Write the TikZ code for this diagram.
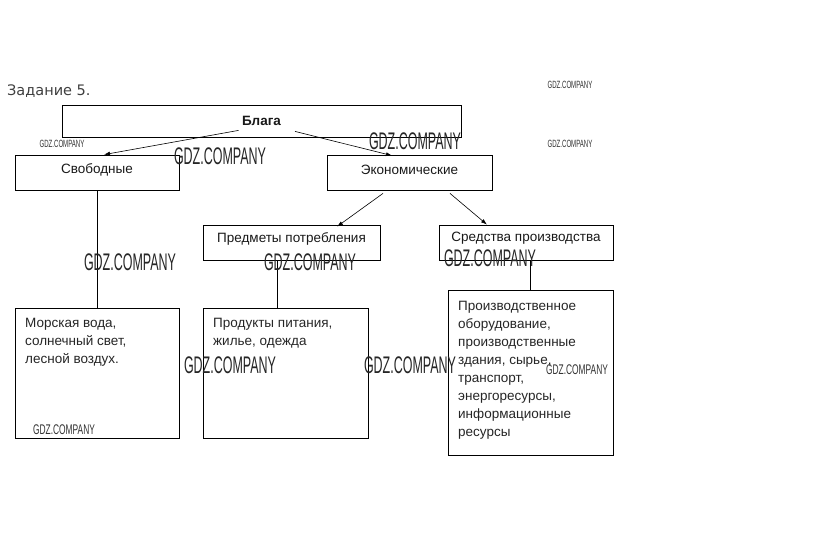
\documentclass[tikz,border=0pt]{standalone}
\usepackage{fontspec}
\setmainfont{Liberation Sans}
\newfontfamily\titlefont{DejaVu Sans}
\usetikzlibrary{arrows.meta}
\tikzset{
  box/.style={draw=black, line width=0.8pt, inner sep=0pt},
  lbl/.style={font=\fontsize{13.5}{18}\selectfont, inner sep=0pt, text=black!90},
  multi/.style={font=\fontsize{13.5}{18}\selectfont, inner sep=0pt, align=left, anchor=base west, text=black!85},
  conn/.style={line width=0.6pt, -{Latex[length=6pt,width=4pt]}},
  plain/.style={line width=0.6pt},
  wmbig/.style={font=\fontsize{24}{24}\selectfont, inner sep=0pt, text=black!85},
  wmsmall/.style={font=\fontsize{10.5}{10.5}\selectfont, inner sep=0pt, text=black!80},
  wmmid/.style={font=\fontsize{14}{14}\selectfont, inner sep=0pt, text=black!80}
}
\newcommand{\wmtext}[1]{\scalebox{#1}[1]{GDZ.COMPANY}}
\begin{document}
\begin{tikzpicture}[x=1pt,y=-1pt]
\useasboundingbox[fill=white] (0,0) rectangle (823,549);

% title
\node[font=\titlefont\fontsize{14.5}{14.5}\selectfont, text=black!75, anchor=base west, inner sep=0pt] (title) at (7,95) {Задание 5.};

% boxes
\node[box, minimum width=399pt, minimum height=32pt] (blaga) at (261.5,121) {};
\node[lbl, font=\bfseries\fontsize{13.5}{18}\selectfont] (blagat) at (blaga.center) {Блага};

\node[box, minimum width=164pt, minimum height=35pt] (svob) at (97,172.5) {};
\node[lbl] (svobt) at ([yshift=3]svob.center) {Свободные};

\node[box, minimum width=165pt, minimum height=35pt] (ekon) at (409.5,172.5) {};
\node[lbl] (ekont) at ([yshift=3]ekon.center) {Экономические};

\node[box, minimum width=177pt, minimum height=35pt] (pred) at (291.5,242.5) {};
\node[lbl] (predt) at ([yshift=4]pred.center) {Предметы потребления};

\node[box, minimum width=174pt, minimum height=35pt] (sred) at (526,242.5) {};
\node[lbl] (sredt) at ([yshift=4]sred.center) {Средства производства};

\node[box, minimum width=164pt, minimum height=130pt] (mor) at (97,373) {};
\node[multi] (mort) at (25,363) {Морская вода,\\солнечный свет,\\лесной воздух.};

\node[box, minimum width=165pt, minimum height=130pt] (prod) at (285.5,373) {};
\node[multi] (prodt) at (213,345) {Продукты питания,\\жилье, одежда};

\node[box, minimum width=165pt, minimum height=165pt] (proiz) at (530.5,372.5) {};
\node[multi] (proizt) at (458,436) {Производственное\\оборудование,\\производственные\\здания, сырье,\\транспорт,\\энергоресурсы,\\информационные\\ресурсы};

% connectors
\draw[conn] ([xshift=-23pt,yshift=7pt]blaga.south) -- ([xshift=7pt]svob.north);
\draw[conn] ([xshift=33.5pt,yshift=6pt]blaga.south) -- ([xshift=-17.5pt,yshift=-1pt]ekon.north);
\draw[conn] ([xshift=-26.5pt,yshift=-3pt]ekon.south) -- ([xshift=45.5pt,yshift=-2pt]pred.north);
\draw[conn] ([xshift=40.5pt,yshift=-3pt]ekon.south) -- ([xshift=-39pt]sred.north);
\draw[plain] (svob.south) -- (mor.north);
\draw[plain] ([xshift=-14.5pt]pred.south) -- ([xshift=-8.5pt]prod.north);
\draw[plain] ([xshift=4pt]sred.south) -- ([xshift=-0.5pt]proiz.north);

% watermarks
\node[wmbig] (w1) at (220,156) {\wmtext{0.52}};
\node[wmbig] (w2) at (415,141) {\wmtext{0.52}};
\node[wmbig] (w3) at (130,262) {\wmtext{0.52}};
\node[wmbig] (w4) at (310,262) {\wmtext{0.52}};
\node[wmbig] (w5) at (490,258) {\wmtext{0.52}};
\node[wmbig] (w6) at (230,365) {\wmtext{0.52}};
\node[wmbig] (w7) at (410,365) {\wmtext{0.52}};
\node[wmsmall] (w8) at (570,85) {\wmtext{0.58}};
\node[wmsmall] (w9) at (62,144) {\wmtext{0.58}};
\node[wmsmall] (w10) at (570,144) {\wmtext{0.58}};
\node[wmmid] (w11) at (577,370) {\wmtext{0.6}};
\node[wmmid] (w12) at (64,430) {\wmtext{0.6}};
\end{tikzpicture}
\end{document}
